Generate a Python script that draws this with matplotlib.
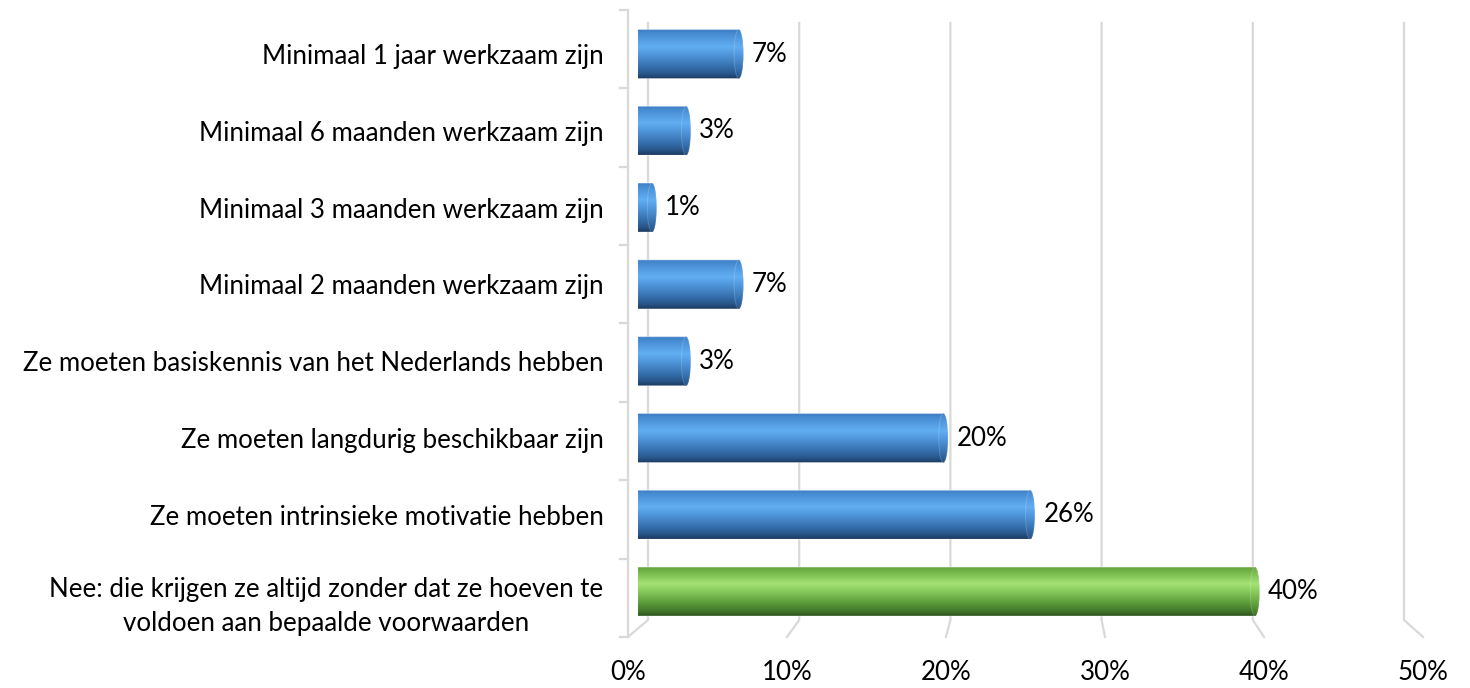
import numpy as np
import matplotlib
matplotlib.use("Agg")
import matplotlib.pyplot as plt
from matplotlib.colors import LinearSegmentedColormap
from matplotlib.patches import Polygon, Ellipse
from matplotlib.transforms import ScaledTranslation

plt.rcParams["font.family"] = ["Lato", "DejaVu Sans"]

categories = [
    "Minimaal 1 jaar werkzaam zijn",
    "Minimaal 6 maanden werkzaam zijn",
    "Minimaal 3 maanden werkzaam zijn",
    "Minimaal 2 maanden werkzaam zijn",
    "Ze moeten basiskennis van het Nederlands hebben",
    "Ze moeten langdurig beschikbaar zijn",
    "Ze moeten intrinsieke motivatie hebben",
    "Nee: die krijgen ze altijd zonder dat ze hoeven te\nvoldoen aan bepaalde voorwaarden",
]
values = [6.8, 3.4, 1.2, 6.8, 3.4, 20.0, 25.6, 40.1]
highlight = [False] * 7 + [True]
xticks = [0, 10, 20, 30, 40, 50]

blue = LinearSegmentedColormap.from_list("blue", [
    (0.0, "#3c7cc2"), (0.12, "#4a90d6"), (0.35, "#62aef2"), (0.5, "#5198dd"),
    (0.75, "#3670ae"), (0.9, "#28568a"), (1.0, "#1c3a5e")])
green = LinearSegmentedColormap.from_list("green", [
    (0.0, "#5f9e3a"), (0.12, "#74b74a"), (0.35, "#a4e276"), (0.5, "#88ca5c"),
    (0.75, "#5a9a38"), (0.9, "#44772a"), (1.0, "#2e5420")])

FS = 18.6
W, H = 1470, 688
fig = plt.figure(figsize=(W / 100, H / 100), dpi=100)
# plot area: 0..50% -> px 638..1413, rows -0.5..7.5 -> px 15.6..630
ax = fig.add_axes([638 / W, 1 - 630 / H, 775 / W, (630 - 15.6) / H])
for s in ax.spines.values():
    s.set_visible(False)

# perspective helpers (back wall slightly narrower than the front floor edge)
def x_back(v):
    return 0.645 + 0.9755 * v

def x_front(v):
    return -0.645 + 1.0258 * v

y_top_back, y_floor_back, y_front = -0.404, 7.37, 7.59
grid_c = "#d9d9d9"
for v in xticks:
    ax.plot([x_back(v), x_back(v), x_front(v)], [y_top_back, y_floor_back, y_front],
            color=grid_c, lw=1.6, clip_on=False, zorder=1)
    # axis labels sit at the front edge of the floor
    ax.annotate(f"{v}%", xy=(x_front(v), 0), xycoords=ax.get_xaxis_transform(),
                xytext=(0, -30.5), textcoords="offset points",
                ha="center", va="center", fontsize=FS, color="black", annotation_clip=False)
# left wall edge with category ticks
ax.plot([x_front(0), x_front(0)], [-0.573, y_front], color=grid_c, lw=1.6, clip_on=False, zorder=1)
for k in range(9):
    yk = -0.573 + 1.0205 * k
    ax.plot([-1.16, x_front(0)], [yk, yk], color=grid_c, lw=1.6, clip_on=False, zorder=1)

# cylinder bars
h = 0.64
rx = 0.3
t = np.linspace(-np.pi / 2, np.pi / 2, 40)
grad = np.linspace(0, 1, 200).reshape(-1, 1)
for i, (v, hl) in enumerate(zip(values, highlight)):
    cmap = green if hl else blue
    xl, xr = 0.0, v - rx
    right = np.column_stack([xr + rx * np.cos(t), i + h / 2 * np.sin(t)])
    left = np.column_stack([xl - rx * np.cos(t[::-1]), i + h / 2 * np.sin(t[::-1])])
    pts = np.vstack([right, left])
    body = Polygon(pts, closed=True, transform=ax.transData)
    im = ax.imshow(grad, extent=[xl - rx, v, i + h / 2, i - h / 2], origin="upper",
                   aspect="auto", cmap=cmap, zorder=3, interpolation="bilinear")
    im.set_clip_path(body)
    ax.add_patch(Polygon(pts, closed=True, fill=False, edgecolor=(1, 1, 1, 0.4),
                         lw=0.8, zorder=4))
    cap = Ellipse((xr, i), 2 * rx, h, transform=ax.transData)
    im2 = ax.imshow(grad * 0.9 + 0.03, extent=[xr - rx, xr + rx, i + h / 2, i - h / 2],
                    origin="upper", aspect="auto", cmap=cmap, zorder=4, vmin=0, vmax=1)
    im2.set_clip_path(cap)
    ax.add_patch(Ellipse((xr, i), 2 * rx, h, fill=False, edgecolor=(1, 1, 1, 0.18),
                         lw=0.7, zorder=5))
    ax.text(v + 0.55, i, f"{v:.0f}%", ha="left", va="center", fontsize=FS, color="black")

ax.set_yticks(range(len(categories)))
ax.set_yticklabels(categories, fontsize=FS, multialignment="center", linespacing=1.45)
ax.tick_params(axis="y", length=0, pad=25)
ax.set_xticks([])
last = ax.get_yticklabels()[-1]
last.set_transform(last.get_transform() + ScaledTranslation(0, -6 / 72, fig.dpi_scale_trans))

ax.set_xlim(0, 50)
ax.set_ylim(7.5, -0.5)

fig.savefig("out.png", dpi=100)
